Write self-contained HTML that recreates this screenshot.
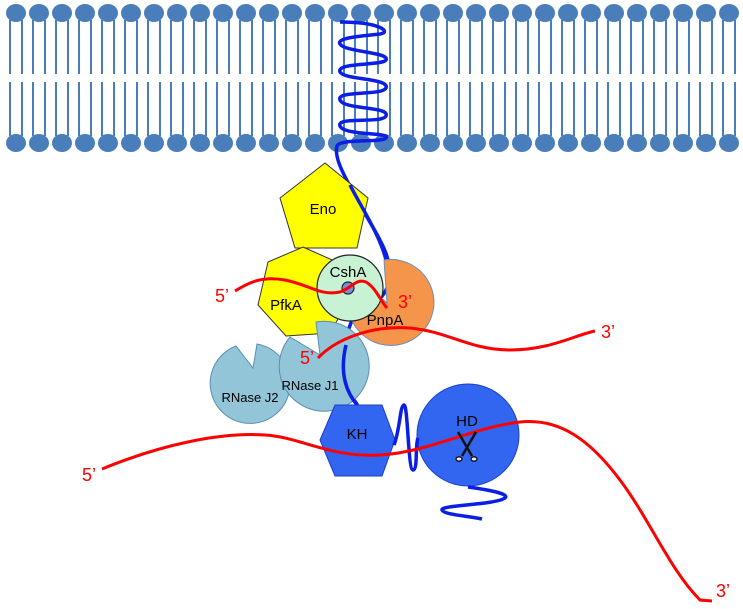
<!DOCTYPE html>
<html><head><meta charset="utf-8"><style>html,body{margin:0;padding:0;background:#fff}svg{display:block}text{font-family:"Liberation Sans",sans-serif}</style></head>
<body>
<svg id="fig" width="743" height="609" viewBox="0 0 743 609" xmlns="http://www.w3.org/2000/svg">
<g id="membrane"></g>
<path d="M340,22 C380,22 392,32 380,34 C360,36 336,38 340,44 C344,52 390,52 386,60 C382,66 336,62 340,72 C344,80 390,78 386,88 C382,96 336,90 340,100 C344,110 390,106 386,116 C382,124 336,116 340,126 C344,136 392,132 386,138 C382,143 340,138 337,146 C333,160 350,185 360,205 C380,240 395,260 388,285 C380,310 360,300 352,320 C342,345 340,370 348,390 C352,398 356,402 358,406" fill="none" stroke="#0a1ee6" stroke-width="3.5"/>
<polygon points="325,163 368,198 357,248 295,248 280,198" fill="#ffff00" stroke="#333" stroke-width="1"/>
<text x="323" y="214" font-size="15" text-anchor="middle">Eno</text>
<path d="M350,185 C360,205 380,235 386,260" fill="none" stroke="#0a1ee6" stroke-width="3.5"/>
<polygon points="303,247 339,263 350,298 330,333 286,336 258,305 268,262" fill="#ffff00" stroke="#333" stroke-width="1"/>
<text x="286" y="310" font-size="15" text-anchor="middle">PfkA</text>
<path d="M387,303 L384,260 A43,43 0 1 1 357,276 Z" fill="#f5944b" stroke="#6c8fb5" stroke-width="1"/>
<text x="385" y="325" font-size="15" text-anchor="middle">PnpA</text>
<path d="M253,368 L257,344 A40,40 0 1 1 236,346 Z" fill="#92c5d8" stroke="#5a8eb5" stroke-width="1"/>
<text x="250" y="402" font-size="13" text-anchor="middle">RNase J2</text>
<path d="M320,355 L316,322 A45,45 0 1 1 290,337 Z" fill="#92c5d8" stroke="#5a8eb5" stroke-width="1"/>
<text x="310" y="390" font-size="13" text-anchor="middle">RNase J1</text>
<path d="M346,345 C340,370 344,390 358,406" fill="none" stroke="#0a1ee6" stroke-width="3.5"/>
<circle cx="350" cy="288" r="33" fill="#c8f2d4" stroke="#222" stroke-width="1.2"/>
<circle cx="348" cy="288" r="6" fill="#7a8fd6" stroke="#222" stroke-width="1.2"/>
<text x="348" y="277" font-size="15" text-anchor="middle">CshA</text>
<path d="M235,291 C250,282 262,276 285,280 C310,285 320,296 340,292 C352,288 356,278 366,282 C376,288 380,300 387,308" fill="none" stroke="#ff0000" stroke-width="3"/>
<text x="215" y="302" font-size="18" fill="#ff0000">5’</text>
<text x="398" y="308" font-size="18" fill="#ff0000">3’</text>
<path d="M318,358 C335,340 370,325 410,328 C450,332 470,350 510,350 C550,350 575,335 595,331" fill="none" stroke="#ff0000" stroke-width="3"/>
<text x="300" y="364" font-size="18" fill="#ff0000">5’</text>
<text x="601" y="338" font-size="18" fill="#ff0000">3’</text>
<polygon points="320,440 335,405 382,405 395,440 382,476 335,476" fill="#3366f0" stroke="#1a3fcc" stroke-width="1"/>
<text x="357" y="439" font-size="15" text-anchor="middle">KH</text>
<circle cx="468" cy="435" r="51" fill="#3366f0" stroke="#1a3fcc" stroke-width="1"/>
<text x="467" y="426" font-size="15" text-anchor="middle">HD</text>
<path d="M394,445 C400,430 400,405 404,405 C408,405 408,470 413,470 C418,470 415,445 418,438" fill="none" stroke="#0a1ee6" stroke-width="3.5"/>
<path d="M468,487 C490,490 510,494 505,498 C495,505 440,505 442,510 C444,515 470,516 482,519" fill="none" stroke="#0a1ee6" stroke-width="3.5"/>
<path d="M102,469 C160,445 220,432 265,435 C300,437 330,458 380,455 C430,452 470,428 520,422 C560,418 590,440 620,480 C650,520 670,570 700,600 L712,601" fill="none" stroke="#ff0000" stroke-width="3"/>
<text x="82" y="481" font-size="18" fill="#ff0000">5’</text>
<text x="716" y="597" font-size="18" fill="#ff0000">3’</text>
<g stroke="#111" stroke-width="2.5" fill="none">
<line x1="458" y1="432" x2="472" y2="456"/><line x1="476" y1="432" x2="462" y2="456"/>
<ellipse cx="459" cy="459" rx="3" ry="2.2" fill="#eee" stroke-width="1.3"/><ellipse cx="474" cy="459" rx="3" ry="2.2" fill="#eee" stroke-width="1.3"/>
</g>
</svg>
<script>
var g=document.getElementById('membrane');
var ns='http://www.w3.org/2000/svg';
for(var i=0;i<32;i++){
  var x=16+i*23;
  [[20,74],[82,136]].forEach(function(seg){
    [-6,6].forEach(function(o){
      var l=document.createElementNS(ns,'line');
      
      
      l.setAttribute('x1',x+o);l.setAttribute('x2',x+o);l.setAttribute('y1',seg[0]);l.setAttribute('y2',seg[1]);
      l.setAttribute('stroke','#4a7ebb');l.setAttribute('stroke-width','2');
      g.appendChild(l);
    });
  });
  [13,143].forEach(function(y){
    var c=document.createElementNS(ns,'ellipse');
    
    
    c.setAttribute('cx',x);c.setAttribute('cy',y);c.setAttribute('rx',10);c.setAttribute('ry',9);
    c.setAttribute('fill','#4a7ebb');
    g.appendChild(c);
  });
}
</script>
</body></html>
